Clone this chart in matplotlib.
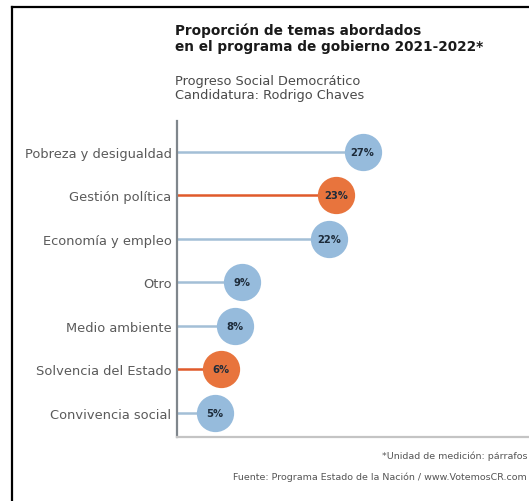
import matplotlib
matplotlib.use("Agg")
import matplotlib.pyplot as plt
from matplotlib.lines import Line2D

categories = ["Pobreza y desigualdad", "Gestión política", "Economía y empleo",
              "Otro", "Medio ambiente", "Solvencia del Estado", "Convivencia social"]
values = [27, 23, 22, 9, 8, 6, 5]
highlight = [False, True, False, False, False, True, False]
value_labels = ["27%", "23%", "22%", "9%", "8%", "6%", "5%"]

W, H = 529, 502
fig = plt.figure(figsize=(W / 100, H / 100), dpi=100)
fig.patch.set_facecolor("white")

# frame lines (top and left)
fig.add_artist(Line2D([12 / W, 1], [1 - 8 / H, 1 - 8 / H], color="black", lw=1.6, transform=fig.transFigure))
fig.add_artist(Line2D([12 / W, 12 / W], [0, 1 - 8 / H], color="black", lw=1.6, transform=fig.transFigure))

ax_left, ax_right = 177, 528
ax_top, ax_bot = 122, 438
ax = fig.add_axes([ax_left / W, 1 - ax_bot / H, (ax_right - ax_left) / W, (ax_bot - ax_top) / H])

blue_c, blue_l = "#96bbdc", "#a3bfd6"
orange_c, orange_l = "#e8743d", "#e05a2b"

n = len(categories)
ys = list(range(n))
for y, v, h, lab in zip(ys, values, highlight, value_labels):
    lc = orange_l if h else blue_l
    cc = orange_c if h else blue_c
    ax.plot([-1, v], [y, y], color=lc, lw=1.8, zorder=1, solid_capstyle="butt")
    ax.scatter([v], [y], s=720, color=cc, zorder=2, linewidths=0)
    ax.text(v, y, lab, ha="center", va="center", fontsize=7.2, fontweight="bold",
            color="#1d2b3a", zorder=3)

ax.set_xlim(-0.6, 51.6)
ax.set_ylim(n - 0.5 + 0.05, -0.7)
ax.set_yticks(ys)
ax.set_yticklabels(categories, fontsize=9.4, color="#5a5a5a")
ax.tick_params(axis="y", length=0, pad=4)
ax.set_xticks([])
for s in ["top", "right"]:
    ax.spines[s].set_visible(False)
ax.spines["left"].set_color("#7f868c")
ax.spines["left"].set_linewidth(1.6)
ax.spines["bottom"].set_color("#c4c4c4")
ax.spines["bottom"].set_linewidth(1.6)

fig.text(175 / W, 1 - 38.5 / H, "Proporción de temas abordados\nen el programa de gobierno 2021-2022*",
         fontsize=9.8, fontweight="bold", color="#1a1a1a", va="center", ha="left", linespacing=1.15)
fig.text(175 / W, 1 - 88 / H, "Progreso Social Democrático\nCandidatura: Rodrigo Chaves",
         fontsize=9.3, color="#4a4a4a", va="center", ha="left", linespacing=1.1)

fig.text(527 / W, 1 - 456 / H, "*Unidad de medición: párrafos", fontsize=6.8, color="#555555",
         ha="right", va="center")
fig.text(527 / W, 1 - 477 / H, "Fuente: Programa Estado de la Nación / www.VotemosCR.com",
         fontsize=6.8, color="#555555", ha="right", va="center")

fig.savefig("out.png", dpi=100, facecolor="white")
